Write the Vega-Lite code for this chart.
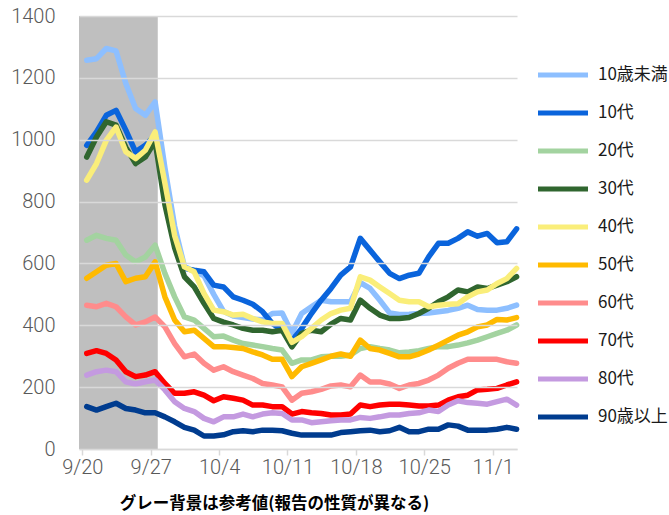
{
  "$schema": "https://vega.github.io/schema/vega-lite/v6.json",
  "width": 438,
  "height": 433,
  "autosize": {"type": "none"},
  "padding": {"left": 79, "top": 16, "right": 152, "bottom": 66},
  "background": "white",
  "config": {"view": {"stroke": null}, "font": "Roboto"},
  "datasets": {
    "bg": [{"start": "2022-09-19T05:00:00Z", "end": "2022-09-27T06:30:00Z"}],
    "series": [
      {"date": "2022-09-20", "10歳未満": 1257, "10代": 982, "20代": 675, "30代": 944, "40代": 869, "50代": 552, "60代": 465, "70代": 309, "80代": 239, "90歳以上": 137},
      {"date": "2022-09-21", "10歳未満": 1262, "10代": 1025, "20代": 691, "30代": 1009, "40代": 923, "50代": 573, "60代": 460, "70代": 318, "80代": 250, "90歳以上": 126},
      {"date": "2022-09-22", "10歳未満": 1295, "10代": 1079, "20代": 681, "30代": 1058, "40代": 998, "50代": 594, "60代": 471, "70代": 309, "80代": 255, "90歳以上": 137},
      {"date": "2022-09-23", "10歳未満": 1287, "10代": 1095, "20代": 675, "30代": 1047, "40代": 1041, "50代": 600, "60代": 460, "70代": 288, "80代": 250, "90歳以上": 148},
      {"date": "2022-09-24", "10歳未満": 1182, "10代": 1031, "20代": 627, "30代": 975, "40代": 961, "50代": 541, "60代": 427, "70代": 250, "80代": 217, "90歳以上": 131},
      {"date": "2022-09-25", "10歳未満": 1101, "10代": 961, "20代": 605, "30代": 923, "40代": 939, "50代": 552, "60代": 401, "70代": 234, "80代": 210, "90歳以上": 126},
      {"date": "2022-09-26", "10歳未満": 1079, "10代": 982, "20代": 621, "30代": 944, "40代": 966, "50代": 557, "60代": 411, "70代": 239, "80代": 217, "90歳以上": 117},
      {"date": "2022-09-27", "10歳未満": 1122, "10代": 1015, "20代": 659, "30代": 995, "40代": 1025, "50代": 605, "60代": 427, "70代": 250, "80代": 223, "90歳以上": 117},
      {"date": "2022-09-28", "10歳未満": 910, "10代": 830, "20代": 568, "30代": 790, "40代": 860, "50代": 492, "60代": 395, "70代": 212, "80代": 191, "90歳以上": 104},
      {"date": "2022-09-29", "10歳未満": 720, "10代": 670, "20代": 492, "30代": 650, "40代": 690, "50代": 417, "60代": 341, "70代": 180, "80代": 153, "90歳以上": 88},
      {"date": "2022-09-30", "10歳未満": 590, "10代": 584, "20代": 427, "30代": 557, "40代": 589, "50代": 379, "60代": 298, "70代": 180, "80代": 131, "90歳以上": 70},
      {"date": "2022-10-01", "10歳未満": 575, "10代": 578, "20代": 417, "30代": 524, "40代": 573, "50代": 384, "60代": 307, "70代": 185, "80代": 121, "90歳以上": 61},
      {"date": "2022-10-02", "10歳未満": 560, "10代": 573, "20代": 390, "30代": 471, "40代": 503, "50代": 358, "60代": 277, "70代": 174, "80代": 99, "90歳以上": 42},
      {"date": "2022-10-03", "10歳未満": 500, "10代": 530, "20代": 363, "30代": 422, "40代": 449, "50代": 331, "60代": 255, "70代": 156, "80代": 88, "90歳以上": 42},
      {"date": "2022-10-04", "10歳未満": 445, "10代": 524, "20代": 365, "30代": 410, "40代": 444, "50代": 331, "60代": 266, "70代": 169, "80代": 104, "90歳以上": 46},
      {"date": "2022-10-05", "10歳未満": 430, "10代": 492, "20代": 352, "30代": 401, "40代": 433, "50代": 328, "60代": 250, "70代": 164, "80代": 104, "90歳以上": 56},
      {"date": "2022-10-06", "10歳未満": 425, "10代": 481, "20代": 341, "30代": 390, "40代": 436, "50代": 325, "60代": 239, "70代": 158, "80代": 113, "90歳以上": 59},
      {"date": "2022-10-07", "10歳未満": 420, "10代": 468, "20代": 336, "30代": 384, "40代": 422, "50代": 314, "60代": 228, "70代": 142, "80代": 104, "90歳以上": 56},
      {"date": "2022-10-08", "10歳未満": 418, "10代": 444, "20代": 331, "30代": 384, "40代": 411, "50代": 304, "60代": 212, "70代": 142, "80代": 113, "90歳以上": 61},
      {"date": "2022-10-09", "10歳未満": 438, "10代": 406, "20代": 325, "30代": 379, "40代": 406, "50代": 290, "60代": 207, "70代": 137, "80代": 117, "90歳以上": 61},
      {"date": "2022-10-10", "10歳未満": 440, "10代": 384, "20代": 320, "30代": 384, "40代": 406, "50代": 290, "60代": 201, "70代": 137, "80代": 115, "90歳以上": 59},
      {"date": "2022-10-11", "10歳未満": 375, "10代": 350, "20代": 277, "30代": 330, "40代": 345, "50代": 234, "60代": 158, "70代": 113, "80代": 94, "90歳以上": 51},
      {"date": "2022-10-12", "10歳未満": 438, "10代": 390, "20代": 288, "30代": 374, "40代": 363, "50代": 266, "60代": 180, "70代": 121, "80代": 94, "90歳以上": 45},
      {"date": "2022-10-13", "10歳未満": 460, "10代": 438, "20代": 288, "30代": 384, "40代": 390, "50代": 277, "60代": 185, "70代": 117, "80代": 85, "90歳以上": 45},
      {"date": "2022-10-14", "10歳未満": 481, "10代": 481, "20代": 298, "30代": 379, "40代": 417, "50代": 288, "60代": 193, "70代": 115, "80代": 88, "90歳以上": 45},
      {"date": "2022-10-15", "10歳未満": 476, "10代": 519, "20代": 300, "30代": 404, "40代": 438, "50代": 300, "60代": 204, "70代": 110, "80代": 91, "90歳以上": 45},
      {"date": "2022-10-16", "10歳未満": 476, "10代": 562, "20代": 300, "30代": 422, "40代": 449, "50代": 307, "60代": 207, "70代": 110, "80代": 94, "90歳以上": 53},
      {"date": "2022-10-17", "10歳未満": 476, "10代": 589, "20代": 304, "30代": 417, "40代": 455, "50代": 300, "60代": 201, "70代": 113, "80代": 94, "90歳以上": 56},
      {"date": "2022-10-18", "10歳未満": 538, "10代": 681, "20代": 325, "30代": 481, "40代": 557, "50代": 352, "60代": 239, "70代": 142, "80代": 102, "90歳以上": 59},
      {"date": "2022-10-19", "10歳未満": 519, "10代": 643, "20代": 331, "30代": 455, "40代": 546, "50代": 325, "60代": 217, "70代": 137, "80代": 99, "90歳以上": 61},
      {"date": "2022-10-20", "10歳未満": 481, "10代": 605, "20代": 325, "30代": 433, "40代": 524, "50代": 320, "60代": 217, "70代": 142, "80代": 104, "90歳以上": 56},
      {"date": "2022-10-21", "10歳未満": 440, "10代": 568, "20代": 320, "30代": 422, "40代": 503, "50代": 309, "60代": 210, "70代": 145, "80代": 110, "90歳以上": 59},
      {"date": "2022-10-22", "10歳未満": 435, "10代": 551, "20代": 311, "30代": 422, "40代": 481, "50代": 298, "60代": 196, "70代": 145, "80代": 110, "90歳以上": 70},
      {"date": "2022-10-23", "10歳未満": 436, "10代": 562, "20代": 314, "30代": 425, "40代": 476, "50代": 298, "60代": 207, "70代": 142, "80代": 115, "90歳以上": 56},
      {"date": "2022-10-24", "10歳未満": 438, "10代": 568, "20代": 318, "30代": 438, "40代": 476, "50代": 307, "60代": 212, "70代": 139, "80代": 117, "90歳以上": 56},
      {"date": "2022-10-25", "10歳未満": 440, "10代": 621, "20代": 325, "30代": 455, "40代": 460, "50代": 320, "60代": 223, "70代": 139, "80代": 126, "90歳以上": 64},
      {"date": "2022-10-26", "10歳未満": 444, "10代": 665, "20代": 331, "30代": 476, "40代": 465, "50代": 336, "60代": 239, "70代": 142, "80代": 121, "90歳以上": 64},
      {"date": "2022-10-27", "10歳未満": 448, "10代": 665, "20代": 331, "30代": 492, "40代": 468, "50代": 352, "60代": 261, "70代": 158, "80代": 142, "90歳以上": 78},
      {"date": "2022-10-28", "10歳未満": 455, "10代": 681, "20代": 336, "30代": 514, "40代": 470, "50代": 368, "60代": 277, "70代": 169, "80代": 156, "90歳以上": 74},
      {"date": "2022-10-29", "10歳未満": 465, "10代": 702, "20代": 343, "30代": 508, "40代": 492, "50代": 379, "60代": 290, "70代": 174, "80代": 150, "90歳以上": 61},
      {"date": "2022-10-30", "10歳未満": 451, "10代": 688, "20代": 352, "30代": 524, "40代": 508, "50代": 395, "60代": 290, "70代": 191, "80代": 148, "90歳以上": 61},
      {"date": "2022-10-31", "10歳未満": 449, "10代": 697, "20代": 363, "30代": 519, "40代": 514, "50代": 401, "60代": 290, "70代": 193, "80代": 145, "90歳以上": 61},
      {"date": "2022-11-01", "10歳未満": 449, "10代": 667, "20代": 374, "30代": 530, "40代": 535, "50代": 419, "60代": 290, "70代": 196, "80代": 153, "90歳以上": 64},
      {"date": "2022-11-02", "10歳未満": 455, "10代": 670, "20代": 384, "30代": 541, "40代": 551, "50代": 417, "60代": 282, "70代": 207, "80代": 161, "90歳以上": 70},
      {"date": "2022-11-03", "10歳未満": 465, "10代": 712, "20代": 401, "30代": 557, "40代": 584, "50代": 425, "60代": 277, "70代": 217, "80代": 142, "90歳以上": 64}
    ]
  },
  "layer": [
    {
      "data": {"name": "bg"},
      "mark": {"type": "rect", "color": "#BFBFBF"},
      "encoding": {
        "x": {"field": "start", "type": "temporal"},
        "x2": {"field": "end"}
      }
    },
    {
      "data": {"name": "series"},
      "transform": [
        {"fold": ["10歳未満", "10代", "20代", "30代", "40代", "50代", "60代", "70代", "80代", "90歳以上"], "as": ["group", "value"]}
      ],
      "mark": {"type": "line", "strokeWidth": 5.5, "strokeJoin": "round", "strokeCap": "round"},
      "encoding": {
        "x": {
          "field": "date",
          "type": "temporal",
          "scale": {
            "type": "utc",
            "domain": [
              {"year": 2022, "month": 9, "date": 19, "hours": 5, "utc": true},
              {"year": 2022, "month": 11, "date": 3, "hours": 1, "utc": true}
            ]
          },
          "axis": {
            "values": [
              {"year": 2022, "month": 9, "date": 20, "utc": true},
              {"year": 2022, "month": 9, "date": 27, "utc": true},
              {"year": 2022, "month": 10, "date": 4, "utc": true},
              {"year": 2022, "month": 10, "date": 11, "utc": true},
              {"year": 2022, "month": 10, "date": 18, "utc": true},
              {"year": 2022, "month": 10, "date": 25, "utc": true},
              {"year": 2022, "month": 11, "date": 1, "utc": true}
            ],
            "format": "%-m/%-d",
            "grid": false,
            "tickOffset": -4.4,
            "domainColor": "#D9D9D9",
            "domainWidth": 1.5,
            "tickColor": "#D9D9D9",
            "tickWidth": 1.5,
            "tickSize": 6,
            "labelPadding": 2,
            "labelFont": "Roboto",
            "labelFontSize": 20,
            "labelFontWeight": 300,
            "labelColor": "#595959",
            "labelFlush": false,
            "labelOverlap": false,
            "title": "グレー背景は参考値(報告の性質が異なる)",
            "titleFont": "Noto Sans CJK JP",
            "titleFontSize": 16.5,
            "titleFontWeight": "bold",
            "titleColor": "#000000",
            "titleX": 195,
            "titleY": 54,
            "titleAlign": "center",
            "titleBaseline": "middle"
          }
        },
        "y": {
          "field": "value",
          "type": "quantitative",
          "scale": {"domain": [0, 1400], "nice": false},
          "axis": {
            "values": [0, 200, 400, 600, 800, 1000, 1200, 1400],
            "format": "d",
            "domain": false,
            "ticks": false,
            "tickSize": 0,
            "labelPadding": 24,
            "labelFont": "Roboto",
            "labelFontSize": 20,
            "labelFontWeight": 300,
            "labelColor": "#595959",
            "gridColor": "#D9D9D9",
            "gridWidth": 1.5,
            "title": null,
            "zindex": 1
          }
        },
        "color": {
          "field": "group",
          "type": "nominal",
          "sort": null,
          "scale": {
            "domain": ["10歳未満", "10代", "20代", "30代", "40代", "50代", "60代", "70代", "80代", "90歳以上"],
            "range": ["#8DBFFF", "#0A64DC", "#A3D3A0", "#30662F", "#FAEE7A", "#FFBA00", "#FF8C8C", "#FF0000", "#C49AE0", "#003C8F"]
          },
          "legend": {
            "title": null,
            "orient": "none",
            "legendX": 456.5,
            "legendY": 40,
            "direction": "vertical",
            "symbolType": "stroke",
            "symbolSize": 2500,
            "symbolStrokeWidth": 5,
            "labelFont": "Noto Sans CJK JP",
            "labelFontSize": 17,
            "labelColor": "#1A1A1A",
            "labelOffset": 7.5,
            "labelLimit": 200,
            "clipHeight": 38,
            "rowPadding": 0
          }
        }
      }
    }
  ]
}
